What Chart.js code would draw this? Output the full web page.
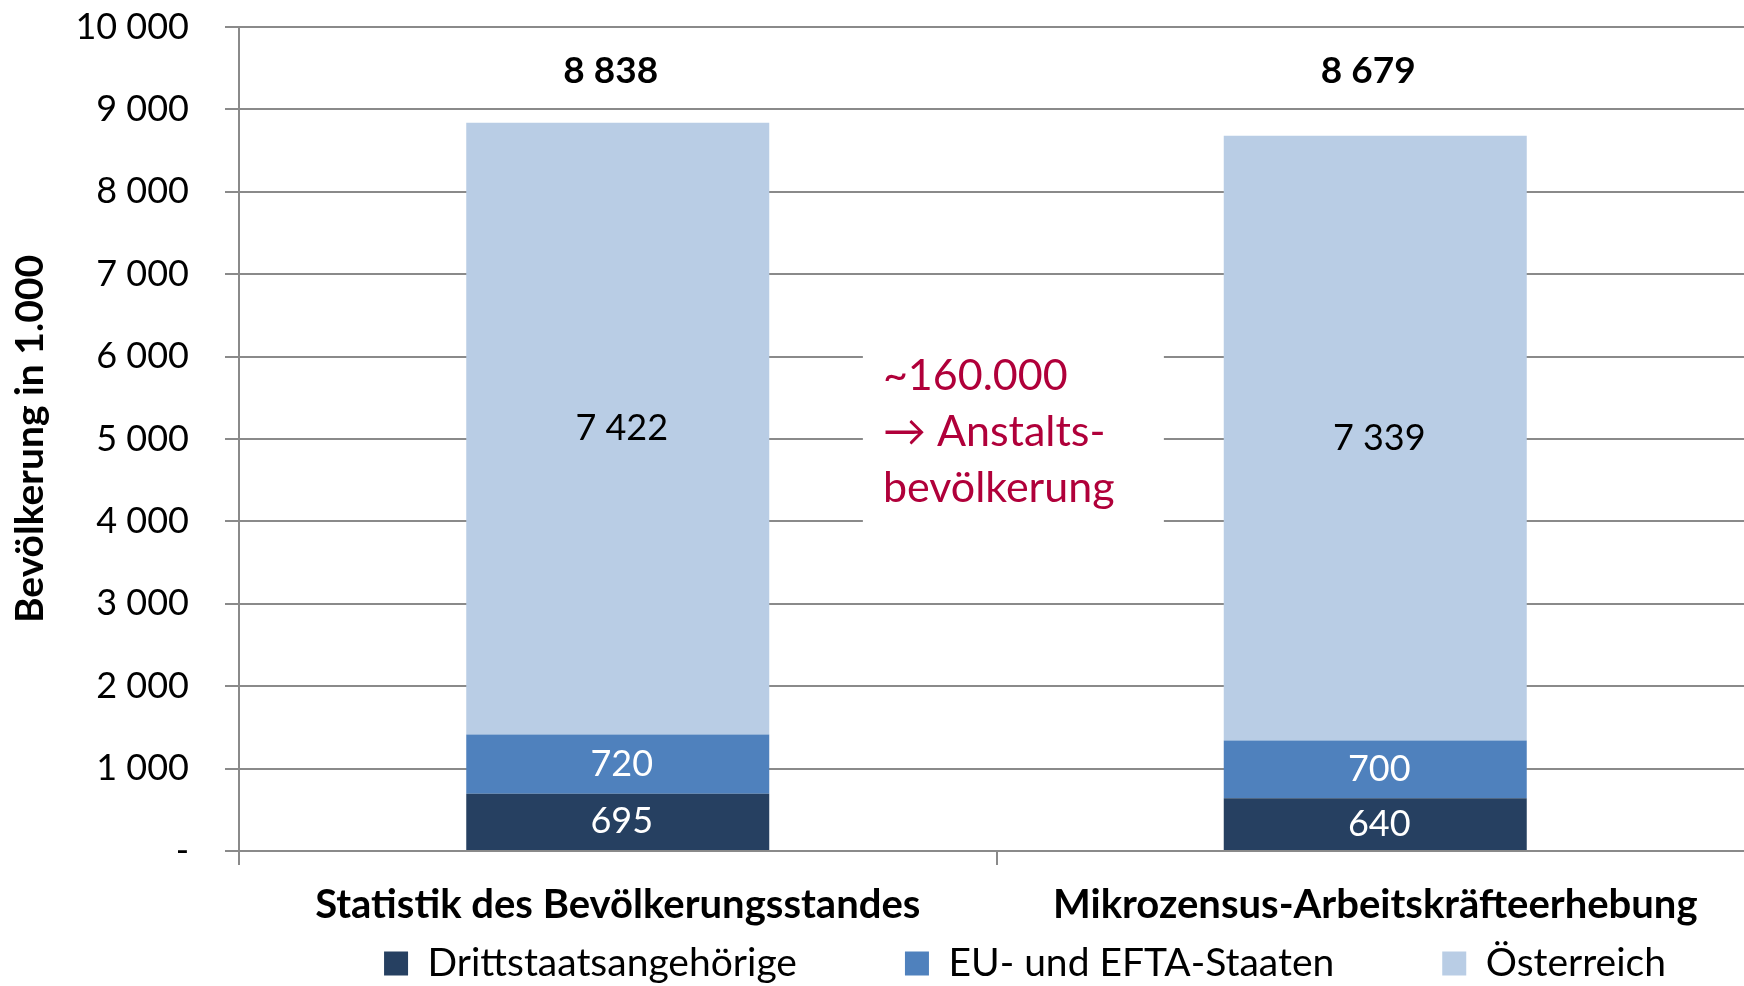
<!DOCTYPE html>
<html>
<head>
<meta charset="utf-8">
<script src="https://cdn.jsdelivr.net/npm/chart.js@4/dist/chart.umd.min.js"></script>
<style>
  html, body { margin: 0; padding: 0; background: #fff; overflow: hidden; }
  #wrap { width: 1754px; height: 986px; }
</style>
</head>
<body>
<div id="wrap"><canvas id="bevChart"></canvas></div>
<script>
const categories = ["Statistik des Bevölkerungsstandes", "Mikrozensus-Arbeitskräfteerhebung"];
const seriesNames = ["Drittstaatsangehörige", "EU- und EFTA-Staaten", "Österreich"];
const drittstaaten = [695, 640];
const euEfta = [720, 700];
const oesterreich = [7422, 7339];
const totals = [8838, 8679];
const noteLines = ["~160.000", "\u2192 Anstalts-", "bevölkerung"];

const colors = ["#264061", "#4F81BD", "#B9CDE5"];
const labelColors = ["#ffffff", "#ffffff", "#000000"];
const gridColor = "#8a8a8a";
const fontFam = "Lato, 'Open Sans', sans-serif";

function fmt(v) {
  return String(Math.round(v)).replace(/\B(?=(\d{3})+(?!\d))/g, " ");
}

// value labels, totals and the red note
const labelPlugin = {
  id: "segmentLabels",
  afterDatasetsDraw(chart) {
    const ctx = chart.ctx;
    const xs = chart.scales.x;
    const ys = chart.scales.y;
    ctx.save();
    ctx.textAlign = "center";
    ctx.textBaseline = "middle";
    ctx.font = "36px " + fontFam;
    chart.data.datasets.forEach((ds, i) => {
      const meta = chart.getDatasetMeta(i);
      meta.data.forEach((bar, j) => {
        ctx.fillStyle = labelColors[i];
        ctx.fillText(fmt(ds.data[j]), bar.x + 4, (bar.y + bar.base) / 2);
      });
    });

    ctx.font = "bold 37px " + fontFam;
    ctx.fillStyle = "#000";
    chart.getDatasetMeta(0).data.forEach((bar, j) => {
      ctx.fillText(fmt(totals[j]), bar.x - 7, ys.getPixelForValue(9470));
    });

    // note box between the bars
    const left = xs.getPixelForValue(0.35);
    const top = ys.getPixelForValue(5760);
    ctx.fillStyle = "#fff";
    ctx.fillRect(left - 20, top - 55, 301, 2 * 56 + 110);
    ctx.fillStyle = "#B0003A";
    ctx.font = "43px " + fontFam;
    ctx.textAlign = "left";
    noteLines.forEach((t, k) => ctx.fillText(t, left, top + k * 56));
    ctx.restore();
  }
};

// move the legend below the axis labels, where it sits in the original
const legendShift = {
  id: "legendShift",
  afterLayout(chart) {
    const lg = chart.legend;
    const pad = lg.options.labels.padding;
    const startX = (lg.left + pad + lg.right - lg.lineWidths[0]) / 2;
    const dx = (1025 - (lg.lineWidths[0] - pad) / 2) - startX;
    const dy = 836 - lg.top;
    lg.top += dy;
    lg.bottom = lg.top + 180;
    lg.left += dx;
    lg.right += dx;
  }
};

new Chart(document.getElementById("bevChart"), {
  type: "bar",
  data: {
    labels: categories,
    datasets: [
      { label: seriesNames[0], data: drittstaaten, backgroundColor: colors[0] },
      { label: seriesNames[1], data: euEfta, backgroundColor: colors[1] },
      { label: seriesNames[2], data: oesterreich, backgroundColor: colors[2] }
    ]
  },
  plugins: [labelPlugin, legendShift],
  options: {
    responsive: true,
    maintainAspectRatio: false,
    animation: false,
    layout: { padding: { top: 27, right: 0, bottom: 0, left: 0 } },
    datasets: {
      bar: { categoryPercentage: 1, barPercentage: 0.4, borderWidth: 0 }
    },
    scales: {
      x: {
        stacked: true,
        grid: {
          offset: true,
          drawOnChartArea: false,
          color: gridColor,
          lineWidth: 2,
          tickLength: 14
        },
        border: { color: gridColor, width: 2 },
        ticks: {
          color: "#000",
          padding: 16,
          maxRotation: 0,
          font: { family: fontFam, size: 40, weight: "bold" }
        },
        afterFit(scale) { scale.height = 95; }
      },
      y: {
        stacked: true,
        min: 0,
        max: 10000,
        grid: { color: gridColor, lineWidth: 2, tickLength: 14 },
        border: { color: gridColor, width: 2 },
        ticks: {
          stepSize: 1000,
          color: "#000",
          padding: 36,
          font: { family: fontFam, size: 36 },
          callback: (v) => (v === 0 ? "-" : fmt(v))
        },
        title: {
          display: true,
          text: "Bevölkerung in 1.000",
          color: "#000",
          padding: { top: 7, bottom: 0 },
          font: { family: fontFam, size: 39, weight: "bold" }
        },
        afterFit(scale) {
          scale.width = 239;
          scale.paddingTop = 0;
          scale.paddingBottom = 0;
        }
      }
    },
    plugins: {
      tooltip: { enabled: false },
      legend: {
        position: "bottom",
        fullSize: false,
        maxHeight: 40,
        labels: {
          color: "#000",
          boxWidth: 24,
          boxHeight: 24,
          padding: 108,
          font: { family: fontFam, size: 39 }
        }
      }
    }
  }
});
</script>
</body>
</html>
